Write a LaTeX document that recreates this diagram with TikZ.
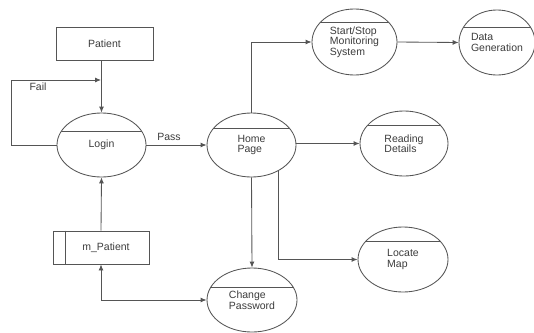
\documentclass[tikz,border=0pt]{standalone}
\usepackage{fontspec}
\setmainfont{Liberation Sans}
\usetikzlibrary{shapes.geometric,arrows.meta}
\definecolor{linecol}{RGB}{85,85,85}
\definecolor{textcol}{RGB}{60,60,60}
\tikzset{
  base/.style={draw=linecol, line width=0.85pt, text=textcol, inner sep=0pt,
    font=\fontsize{10.5}{10.5}\selectfont, align=left},
  store/.style={base, rectangle, minimum width=97pt, minimum height=33pt},
  proc/.style args={#1/#2/#3}{base, ellipse, minimum width=#1pt, minimum height=#2pt,
    path picture={\draw[linecol, line width=0.85pt]
      ([yshift=-#3pt]path picture bounding box.north west) --
      ([yshift=-#3pt]path picture bounding box.north east);}},
  arr/.style={draw=linecol, line width=0.85pt, -{Latex[length=6pt,width=5pt]}},
  arrtwo/.style={draw=linecol, line width=0.85pt, {Latex[length=6pt,width=5pt]}-{Latex[length=6pt,width=5pt]}},
  lbl/.style={text=textcol, font=\fontsize{10.5}{10.5}\selectfont, inner sep=0pt}
}
\begin{document}
\begin{tikzpicture}[x=1pt, y=-1pt]
\useasboundingbox (0,0) rectangle (534,332);
\node[store] (patient) at (104.5,43.5) {Patient};
\node[proc=89/64/18] (login) at (101.5,145) {\strut Login};
\node[proc=89/64/15] (home) at (251.5,145) {Home\\Page};
\node[proc=85/66/13] (start) at (354.5,42) {Start/Stop\\Monitoring\\System};
\node[proc=76/65/17] (datagen) at (497,42.5) {Data\\Generation};
\node[proc=88/65/14] (reading) at (404,143.5) {Reading\\Details};
\node[proc=90/65/14] (locate) at (403,259.5) {Locate\\Map};
\node[proc=90/64/19] (change) at (252,300) {Change\\Password};
\node[store, minimum width=96pt] (mpatient) at (101,247.5) {\hspace*{10pt}m\_Patient};
\draw[linecol, line width=0.85pt] ([xshift=13pt]mpatient.north west) -- ([xshift=13pt]mpatient.south west);
\coordinate (failin) at (101,80);
\draw[arr] (login.north |- patient.south) -- (login.north);
\draw[arr] (login.west) -- ++(-45,0) |- (failin);
\node[lbl] (fail) at (38,87) {Fail};
\draw[arr] (login.east) -- (home.west);
\node[lbl] (pass) at (169,137) {Pass};
\draw[arr] (home.north) |- (start.west);
\draw[arr] (start.east) -- (datagen.west);
\draw[arr] (home.east |- reading.west) -- (reading.west);
\draw[arr] (home.-44) |- (locate.west);
\draw[arr] (home.south) -- (change.north);
\draw[arr] (mpatient.north) -- (login.south);
\draw[arrtwo] (mpatient.south) |- (change.west);
\end{tikzpicture}
\end{document}
